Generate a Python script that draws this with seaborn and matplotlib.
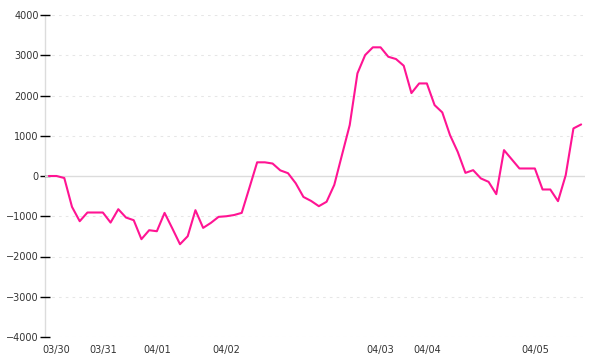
import matplotlib
matplotlib.use("Agg")
import matplotlib.pyplot as plt
import seaborn as sns
import pandas as pd
import numpy as np

values = [0, 0, -50, -767, -1123, -907, -907, -907, -1157, -825,
          -1032, -1098, -1570, -1347, -1372, -916, -1300, -1695, -1496, -849,
          -1289, -1165, -1015, -1000, -970, -916, -290, 340, 340, 310,
          140, 70, -180, -520, -620, -750, -640, -220, 525, 1265,
          2550, 3005, 3197, 3197, 2963, 2906, 2740, 2060, 2300, 2300,
          1762, 1580, 1016, 600, 78, 145, -60, -145, -451, 643,
          415, 187, 187, 187, -335, -335, -625, 20, 1182, 1281]
tick_index = [1, 7, 14, 23, 43, 49, 63]
tick_labels = ["03/30", "03/31", "04/01", "04/02", "04/03", "04/04", "04/05"]
y_ticks = [-4000, -3000, -2000, -1000, 0, 1000, 2000, 3000, 4000]

df = pd.DataFrame({"idx": np.arange(len(values)), "value": values})

sns.set_style("white")
plt.rcParams["font.family"] = ["DejaVu Sans"]

fig = plt.figure(figsize=(6, 3.6), dpi=100)
ax = fig.add_axes([0.075, 0.0639, 0.9, 0.8944])

# grid lines
for yv in y_ticks:
    if yv == 0:
        continue
    ax.axhline(yv, color="#e6e6e6", lw=0.75, ls=(0, (2.5, 4)), zorder=0)
ax.axhline(0, color="#dcdcdc", lw=1.0, zorder=1)

sns.lineplot(data=df, x="idx", y="value", color="#ff1493", lw=1.5, ax=ax, zorder=3)

ax.set_xlim(-0.5, len(values) - 0.5)
ax.set_ylim(-4000, 4000)
ax.set_yticks(y_ticks)
ax.set_yticklabels([str(v).replace("-", "\u2212") for v in y_ticks])
ax.set_xticks(tick_index)
ax.set_xticklabels(tick_labels)
ax.set_xlabel("")
ax.set_ylabel("")

for s in ["top", "right", "bottom"]:
    ax.spines[s].set_visible(False)
ax.spines["left"].set_color("#dcdcdc")
ax.spines["left"].set_linewidth(1.0)
ax.spines["left"].set_zorder(0.5)

ax.tick_params(axis="y", left=True, direction="inout", length=7, width=1, color="#000000",
               labelsize=7, labelcolor="#333333", pad=1)
ax.tick_params(axis="x", bottom=False, length=0, labelsize=7, labelcolor="#333333", pad=6)

fig.savefig("out.png", dpi=100)
